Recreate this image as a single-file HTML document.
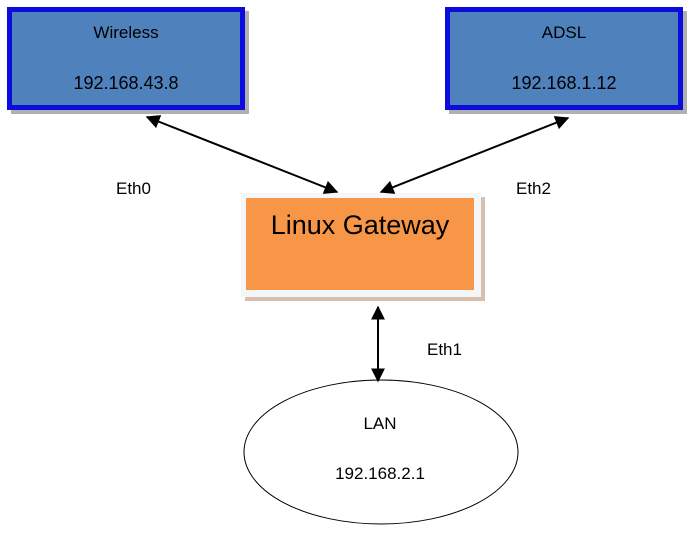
<!DOCTYPE html>
<html><head><meta charset="utf-8"><style>
html,body{margin:0;padding:0;background:#fff;}
svg text{font-family:"Liberation Sans",sans-serif;fill:#000;}
</style></head><body>
<svg width="695" height="555" viewBox="0 0 695 555" xmlns="http://www.w3.org/2000/svg">
<defs>
<marker id="a" viewBox="0 0 10 10" refX="9" refY="5" markerWidth="7" markerHeight="7" orient="auto-start-reverse">
<path d="M0,0 L10,5 L0,10 z" fill="#000"/></marker>
</defs>
<rect x="11" y="11" width="238" height="103" fill="#b0b0b0"/>
<rect x="9.5" y="9.5" width="233" height="98" fill="#4f81bd" stroke="#0c0cdc" stroke-width="5"/>
<text x="126" y="38" font-size="17" text-anchor="middle">Wireless</text>
<text x="126" y="89" font-size="18" text-anchor="middle">192.168.43.8</text>
<rect x="449" y="11" width="238" height="103" fill="#b0b0b0"/>
<rect x="447.5" y="9.5" width="233" height="98" fill="#4f81bd" stroke="#0c0cdc" stroke-width="5"/>
<text x="564" y="38" font-size="17" text-anchor="middle">ADSL</text>
<text x="564" y="89" font-size="18" text-anchor="middle">192.168.1.12</text>
<rect x="245" y="197" width="240" height="104" fill="#d8c0b0"/>
<rect x="241" y="193" width="240" height="104" fill="#f4f6f8"/>
<rect x="246" y="198" width="228" height="92" fill="#f79646"/>
<text x="360" y="234" font-size="27" text-anchor="middle">Linux Gateway</text>
<ellipse cx="381" cy="452" rx="137" ry="72" fill="#fff" stroke="#000" stroke-width="1"/>
<text x="380" y="429" font-size="17" text-anchor="middle">LAN</text>
<text x="380" y="479" font-size="17" text-anchor="middle">192.168.2.1</text>
<line x1="147" y1="117" x2="337" y2="192" stroke="#000" stroke-width="2" marker-start="url(#a)" marker-end="url(#a)"/>
<line x1="568" y1="118" x2="381" y2="192" stroke="#000" stroke-width="2" marker-start="url(#a)" marker-end="url(#a)"/>
<line x1="378" y1="307" x2="378" y2="381" stroke="#000" stroke-width="2" marker-start="url(#a)" marker-end="url(#a)"/>
<text x="116" y="194" font-size="17">Eth0</text>
<text x="516" y="194" font-size="17">Eth2</text>
<text x="427" y="355" font-size="17">Eth1</text>
</svg>
</body></html>
